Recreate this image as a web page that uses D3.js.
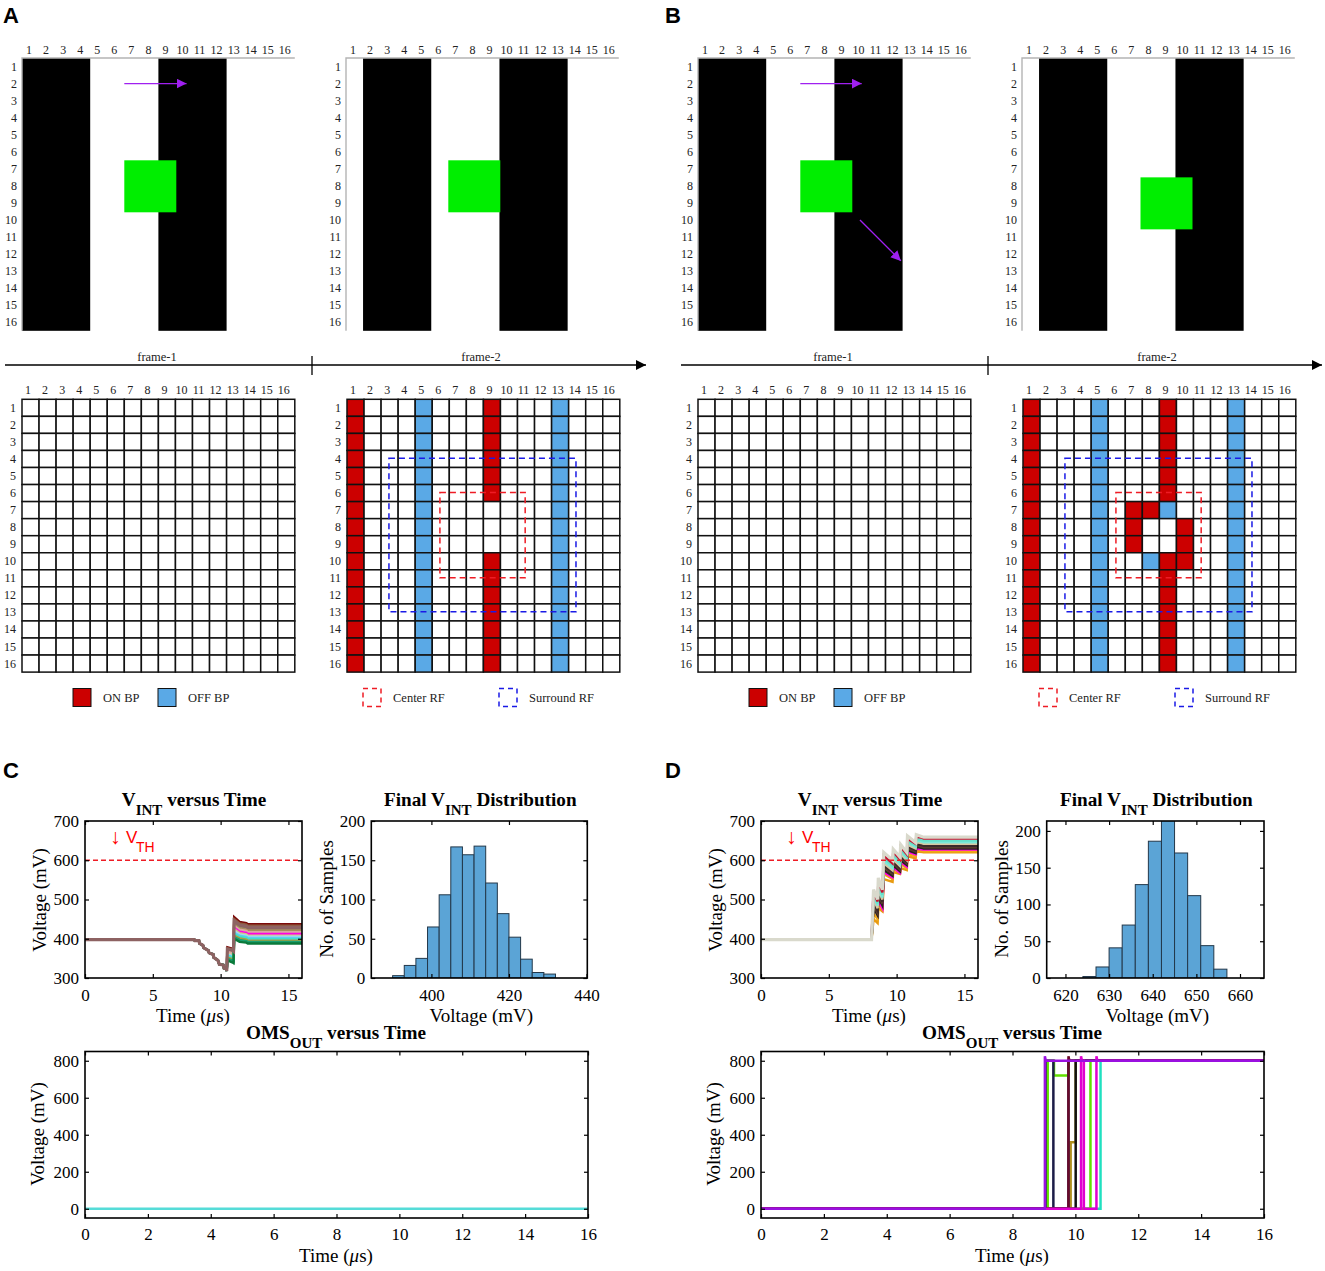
<!DOCTYPE html>
<html>
<head>
<meta charset="utf-8">
<script src="https://cdnjs.cloudflare.com/ajax/libs/d3/7.8.5/d3.min.js"></script>
<style>
  body { margin: 0; background: #fff; }
  svg { display: block; }
  text { font-family: "Liberation Serif", serif; fill: #000; }
  .letter { font-family: "Liberation Sans", sans-serif; font-weight: bold; font-size: 22px; }
  .gridlabel { font-size: 12px; fill: #222; }
  .small { font-size: 12.5px; fill: #222; }
  .tick text { font-family: "Liberation Serif", serif; font-size: 17px; }
  .axlabel { font-size: 19px; }
  .title { font-size: 19.2px; font-weight: bold; }
  .vth { font-family: "Liberation Sans", sans-serif; fill: #f00; }
</style>
</head>
<body>
<svg id="fig" width="1325" height="1271"></svg>
<script>
// grid data
var gridIdx = d3.range(1, 17);

// dark bars of the stimulus, [first column, last column]
var frame1Bars = [[1, 4], [9, 12]];
var frame2Bars = [[2, 5], [10, 13]];

// green square [col offset, row offset, size] in cells
var greenA1 = [6, 6, 3.05];
var greenA2 = [6, 6, 3.05];
var greenB1 = [6, 6, 3.05];
var greenB2 = [6.95, 7, 3.05];

// arrows [x1, y1, x2, y2] in cells
var arrowsA = [[6, 1.5, 9.65, 1.5]];
var arrowsB = [[6, 1.5, 9.6, 1.5], [9.5, 9.5, 11.9, 11.9]];

// response cells [col, row]
var onColumns = [1];
var offColumns = [5, 13];
var onMiddleRowsA = [1, 2, 3, 4, 5, 6, 10, 11, 12, 13, 14, 15, 16];
var onExtraB = [[7, 7], [8, 7], [7, 8], [10, 8], [7, 9], [10, 9], [10, 10]];
var offExtraB = [[9, 7], [8, 10]];

// receptive fields [x0, y0, x1, y1] in cells
var centerRF = [5.45, 5.46, 10.45, 10.46];
var surroundRF = [2.46, 3.46, 13.43, 12.46];

// histogram C
var histCStart = 390, histCWidth = 3;
var histCCounts = [3, 16, 25, 65, 106, 167, 157, 168, 121, 82, 52, 24, 7, 5];
// histogram D
var histDStart = 624, histDWidth = 3;
var histDCounts = [2, 15, 41, 72, 127, 186, 214, 170, 112, 44, 12];

// VINT traces, panel C
var vintCTime = [0, 8.05, 8.1, 8.4, 8.45, 8.7, 8.75, 9.1, 9.15, 9.45, 9.5, 9.8, 9.9, 10.2, 10.25, 10.42, 10.45,
  10.5, 10.85, 10.95, 11.0, 11.4, 11.9, 12.0, 16];
var vintCStart = [398, 398, 395, 395, 388, 383, 377, 370, 364, 360, 352, 345, 335, 333, 325, 324, 318];
var vintCTails = [
  [378, 375, 372, 455, 443, 440, 437, 437],
  [376, 373, 370, 450, 439, 436, 433, 433],
  [372, 369, 366, 441, 431, 428, 425, 425],
  [370, 366, 363, 436, 427, 424, 421, 421],
  [368, 364, 360, 432, 423, 420, 417, 417],
  [352, 348, 345, 428, 418, 415, 412, 412],
  [362, 358, 354, 424, 414, 411, 408, 408],
  [360, 356, 352, 420, 411, 408, 405, 405],
  [358, 354, 350, 415, 408, 405, 402, 402],
  [356, 352, 348, 412, 405, 402, 399, 399],
  [352, 348, 345, 408, 401, 398, 395, 395],
  [349, 345, 342, 404, 397, 394, 392, 392],
  [345, 340, 338, 400, 392, 390, 388, 388],
  [374, 371, 368, 446, 435, 432, 429, 429]
];
var vintCColors = ["#7b0a0a", "#8f5a3c", "#7d6a6a", "#a98b5d", "#d8a8a0", "#ff00e6", "#d6c27a", "#a8d8f0", "#5fd0f0", "#40e0d0", "#a8a040", "#18a070", "#0a7a3a", "#8d6262"];

// VINT traces, panel D
var vintDTime = [0, 8.15, 8.3, 8.6, 8.65, 8.95, 9.05, 9.7, 9.75, 10.25, 10.3, 10.75, 10.8, 11.4, 11.45, 11.9, 12.0, 16];
var vintDValues = [
  [398, 398, 450, 440, 478, 470, 552, 545, 570, 565, 580, 575, 610, 605, 622, 621, 620, 620],
  [398, 398, 465, 450, 490, 475, 565, 552, 576, 570, 590, 580, 616, 610, 626, 624, 623, 623],
  [398, 398, 523, 470, 498, 478, 570, 556, 582, 568, 596, 584, 622, 615, 630, 627, 627, 627],
  [398, 398, 478, 460, 505, 485, 575, 560, 587, 572, 600, 588, 626, 618, 634, 631, 630, 630],
  [398, 398, 485, 465, 512, 490, 582, 565, 592, 576, 606, 592, 630, 622, 638, 634, 633, 633],
  [398, 398, 492, 472, 518, 495, 588, 570, 597, 580, 612, 596, 635, 626, 642, 638, 637, 637],
  [398, 398, 500, 478, 525, 500, 592, 574, 602, 585, 616, 600, 640, 630, 646, 643, 642, 642],
  [398, 398, 508, 485, 532, 505, 598, 580, 608, 590, 622, 605, 645, 634, 650, 647, 646, 646],
  [398, 398, 515, 490, 540, 512, 605, 586, 615, 596, 628, 610, 650, 638, 655, 651, 650, 650],
  [398, 398, 520, 495, 545, 518, 612, 592, 622, 602, 634, 615, 655, 642, 660, 657, 655, 655],
  [398, 398, 525, 500, 555, 525, 620, 600, 628, 608, 640, 620, 662, 645, 665, 660, 659, 659]
];
var vintDColors = ["#e89a10", "#f0a818", "#ff00e6", "#2a2020", "#5a3c2c", "#3a2a2a", "#d8c8a0", "#7de8d8", "#66e0c8", "#c8102e", "#d9d9cc"];

// OMS output
var omsCTime = [0, 16];
var omsCValue = [0, 0];
var omsDTimes = [
  [0, 10.8, 10.8, 16],
  [0, 9.12, 9.12, 9.32, 9.32, 9.78, 9.78, 16],
  [0, 10.48, 10.48, 16],
  [0, 9.85, 9.85, 10.01, 10.01, 16],
  [0, 10.01, 10.01, 16],
  [0, 9.05, 9.05, 9.3, 9.3, 9.78, 9.78, 16],
  [0, 9.78, 9.78, 9.81, 16],
  [0, 10.18, 10.18, 10.21, 10.27, 10.27, 10.67, 10.67, 10.7, 16],
  [0, 9.03, 9.03, 9.06, 16]
];
var omsDValues = [
  [0, 0, 800, 800],
  [0, 0, 800, 800, 720, 720, 800, 800],
  [0, 0, 800, 800],
  [0, 0, 360, 360, 800, 800],
  [0, 0, 800, 800],
  [0, 0, 800, 800, 0, 0, 800, 800],
  [0, 0, 825, 800, 800],
  [0, 0, 825, 800, 800, 0, 0, 825, 800, 800],
  [0, 0, 825, 800, 800]
];
var omsDColors = ["#20e0c0", "#62e000", "#62e000", "#b09020", "#111111", "#1c1c48", "#6a0a2a", "#e000d0", "#9a10e0"];

var RED = "#cc0000", BLUE = "#5aa9e6", GREEN = "#00ee00", PURPLE = "#a020f0";
var cell = 17.05;
var svg = d3.select("#fig");

var defs = svg.append("defs");
defs.append("marker").attr("id", "headPurple").attr("viewBox", "0 0 10 10")
  .attr("refX", 10).attr("refY", 5).attr("markerUnits", "userSpaceOnUse")
  .attr("markerWidth", 10).attr("markerHeight", 10).attr("orient", "auto")
  .append("path").attr("d", "M0,0L10,5L0,10Z").attr("fill", PURPLE);
defs.append("marker").attr("id", "headBlack").attr("viewBox", "0 0 10 10")
  .attr("refX", 10).attr("refY", 5).attr("markerUnits", "userSpaceOnUse")
  .attr("markerWidth", 10).attr("markerHeight", 10).attr("orient", "auto")
  .append("path").attr("d", "M0,0L10,5L0,10Z").attr("fill", "#000");

function cellScales(x0, y0) {
  return {
    x: d3.scaleLinear().domain([0, 16]).range([x0, x0 + 16 * cell]),
    y: d3.scaleLinear().domain([0, 16]).range([y0, y0 + 16 * cell])
  };
}

function gridLabels(g, s, colShift, rowX, colY) {
  g.selectAll("text.col").data(gridIdx).enter().append("text")
    .attr("class", "gridlabel col").attr("text-anchor", "middle")
    .attr("x", function(d) { return s.x(d - 0.5) + colShift; })
    .attr("y", s.y(0) - colY)
    .text(function(d) { return d; });
  g.selectAll("text.row").data(gridIdx).enter().append("text")
    .attr("class", "gridlabel row").attr("text-anchor", "end")
    .attr("x", s.x(0) + rowX)
    .attr("y", function(d) { return s.y(d - 0.5) + 4; })
    .text(function(d) { return d; });
}

function drawStimulus(x0, bars, green, arrows) {
  var g = svg.append("g");
  var s = cellScales(x0, 58);
  g.selectAll("rect.bar").data(bars).enter().append("rect")
    .attr("x", function(d) { return s.x(d[0] - 1); })
    .attr("y", s.y(0))
    .attr("width", function(d) { return s.x(d[1]) - s.x(d[0] - 1); })
    .attr("height", s.y(16) - s.y(0))
    .attr("fill", "#000");
  g.append("path")
    .attr("d", "M" + s.x(0) + "," + s.y(16) + "V" + s.y(0) + "H" + s.x(16))
    .attr("fill", "none").attr("stroke", "#b4b4b4").attr("stroke-width", 1.4);
  g.append("rect")
    .attr("x", s.x(green[0])).attr("y", s.y(green[1]))
    .attr("width", s.x(green[2]) - s.x(0)).attr("height", s.y(green[2]) - s.y(0))
    .attr("fill", GREEN);
  g.selectAll("line.arrow").data(arrows).enter().append("line")
    .attr("x1", function(d) { return s.x(d[0]); })
    .attr("y1", function(d) { return s.y(d[1]); })
    .attr("x2", function(d) { return s.x(d[2]); })
    .attr("y2", function(d) { return s.y(d[3]); })
    .attr("stroke", PURPLE).attr("stroke-width", 1.3)
    .attr("marker-end", "url(#headPurple)");
  gridLabels(g, s, -1.5, -5, 4.5);
}

function drawGrid(x0, on, off, showRF) {
  var g = svg.append("g");
  var s = cellScales(x0, 399.3);
  var cells = [];
  gridIdx.forEach(function(r) {
    gridIdx.forEach(function(c) { cells.push([c, r]); });
  });
  function has(list, d) {
    return list.some(function(p) { return p[0] === d[0] && p[1] === d[1]; });
  }
  g.selectAll("rect").data(cells).enter().append("rect")
    .attr("x", function(d) { return s.x(d[0] - 1); })
    .attr("y", function(d) { return s.y(d[1] - 1); })
    .attr("width", cell).attr("height", cell)
    .attr("fill", function(d) {
      if (has(on, d)) return RED;
      if (has(off, d)) return BLUE;
      return "#fff";
    })
    .attr("stroke", "#111").attr("stroke-width", 1.5);
  if (showRF) {
    [[surroundRF, "#1a1ae6"], [centerRF, "#ee1c25"]].forEach(function(rf) {
      g.append("rect")
        .attr("x", s.x(rf[0][0])).attr("y", s.y(rf[0][1]))
        .attr("width", s.x(rf[0][2]) - s.x(rf[0][0]))
        .attr("height", s.y(rf[0][3]) - s.y(rf[0][1]))
        .attr("fill", "none").attr("stroke", rf[1])
        .attr("stroke-width", 1.5).attr("stroke-dasharray", "6,4");
    });
  }
  gridLabels(g, s, -2.5, -6, 5);
}

function columnCells(cols, rows) {
  var out = [];
  cols.forEach(function(c) {
    rows.forEach(function(r) { out.push([c, r]); });
  });
  return out;
}

function drawFrameBar(dx) {
  var g = svg.append("g");
  g.append("line").attr("x1", 5 + dx).attr("x2", 646 + dx).attr("y1", 365).attr("y2", 365)
    .attr("stroke", "#000").attr("stroke-width", 1.5).attr("marker-end", "url(#headBlack)");
  g.append("line").attr("x1", 312 + dx).attr("x2", 312 + dx).attr("y1", 356).attr("y2", 375)
    .attr("stroke", "#000").attr("stroke-width", 1.3);
  g.append("text").attr("class", "small").attr("text-anchor", "middle")
    .attr("x", 157 + dx).attr("y", 361).text("frame-1");
  g.append("text").attr("class", "small").attr("text-anchor", "middle")
    .attr("x", 481 + dx).attr("y", 361).text("frame-2");
}

function drawLegend(dx) {
  var g = svg.append("g");
  var filled = [[73, RED, "ON BP", 103], [158, BLUE, "OFF BP", 188]];
  filled.forEach(function(d) {
    g.append("rect").attr("x", d[0] + dx).attr("y", 688.5).attr("width", 18).attr("height", 18)
      .attr("fill", d[1]).attr("stroke", "#111").attr("stroke-width", 1);
    g.append("text").attr("class", "small").attr("x", d[3] + dx).attr("y", 701.5).text(d[2]);
  });
  var dashed = [[363, "#ee1c25", "Center RF", 393], [499, "#1a1ae6", "Surround RF", 529]];
  dashed.forEach(function(d) {
    g.append("rect").attr("x", d[0] + dx).attr("y", 688.5).attr("width", 18).attr("height", 18)
      .attr("fill", "none").attr("stroke", d[1]).attr("stroke-width", 1.5)
      .attr("stroke-dasharray", "5,4");
    g.append("text").attr("class", "small").attr("x", d[3] + dx).attr("y", 701.5).text(d[2]);
  });
}

// box with inward ticks on all four sides
function drawBox(box, x, y, xTicks, yTicks, xPad) {
  var g = svg.append("g");
  g.append("g").attr("transform", "translate(0," + box.bottom + ")")
    .call(d3.axisBottom(x).tickValues(xTicks).tickFormat(d3.format("d")).tickSizeInner(-4).tickSizeOuter(0).tickPadding(xPad));
  g.append("g").attr("transform", "translate(0," + box.top + ")")
    .call(d3.axisTop(x).tickValues(xTicks).tickFormat("").tickSizeInner(-4).tickSizeOuter(0));
  g.append("g").attr("transform", "translate(" + box.left + ",0)")
    .call(d3.axisLeft(y).tickValues(yTicks).tickFormat(d3.format("d")).tickSizeInner(-4).tickSizeOuter(0).tickPadding(6));
  g.append("g").attr("transform", "translate(" + box.right + ",0)")
    .call(d3.axisRight(y).tickValues(yTicks).tickFormat("").tickSizeInner(-4).tickSizeOuter(0));
  g.selectAll(".domain").remove();
  g.selectAll(".tick line").attr("stroke", "#000").attr("stroke-width", 1.2);
  g.append("rect")
    .attr("x", box.left).attr("y", box.top)
    .attr("width", box.right - box.left).attr("height", box.bottom - box.top)
    .attr("fill", "none").attr("stroke", "#000").attr("stroke-width", 1.6);
}

function titleText(cx, by, before, sub, after) {
  var t = svg.append("text").attr("class", "title").attr("text-anchor", "middle")
    .attr("x", cx).attr("y", by);
  t.append("tspan").text(before);
  t.append("tspan").attr("dy", 9).attr("font-size", 15).text(sub);
  t.append("tspan").attr("dy", -9).text(after);
}

function yLabel(x, cy, txt) {
  svg.append("text").attr("class", "axlabel").attr("text-anchor", "middle")
    .attr("transform", "translate(" + x + "," + cy + ") rotate(-90)").text(txt);
}

function xLabel(cx, y, txt) {
  svg.append("text").attr("class", "axlabel").attr("text-anchor", "middle")
    .attr("x", cx).attr("y", y).text(txt);
}

function timeLabel(cx, y) {
  var t = svg.append("text").attr("class", "axlabel").attr("text-anchor", "middle")
    .attr("x", cx).attr("y", y);
  t.append("tspan").text("Time (");
  t.append("tspan").attr("font-style", "italic").text("\u03bc");
  t.append("tspan").text("s)");
}

function clipFor(id, box) {
  defs.append("clipPath").attr("id", id).append("rect")
    .attr("x", box.left).attr("y", box.top)
    .attr("width", box.right - box.left).attr("height", box.bottom - box.top);
}

function drawVint(id, left, times, traces, colors, width) {
  var box = { left: left, right: left + 217, top: 821, bottom: 978 };
  var x = d3.scaleLinear().domain([0, 16]).range([box.left, box.right]);
  var y = d3.scaleLinear().domain([300, 700]).range([box.bottom, box.top]);
  clipFor(id, box);
  var line = d3.line()
    .x(function(d, i) { return x(times[i]); })
    .y(function(d) { return y(d); });
  var g = svg.append("g").attr("clip-path", "url(#" + id + ")");
  traces.forEach(function(tr, i) {
    var last = i === traces.length - 1;
    g.append("path").attr("d", line(tr)).attr("fill", "none")
      .attr("stroke", colors[i]).attr("stroke-width", last ? width + 0.8 : width);
  });
  g.append("line").attr("x1", box.left).attr("x2", box.right)
    .attr("y1", y(600)).attr("y2", y(600))
    .attr("stroke", "#ee1c25").attr("stroke-width", 1.4).attr("stroke-dasharray", "5,3");
  drawBox(box, x, y, [0, 5, 10, 15], [300, 400, 500, 600, 700], 11);
  svg.append("text").attr("class", "vth").attr("x", left + 25).attr("y", 844).attr("font-size", 21).text("\u2193");
  svg.append("text").attr("class", "vth").attr("x", left + 41).attr("y", 843).attr("font-size", 17).text("V");
  svg.append("text").attr("class", "vth").attr("x", left + 51).attr("y", 852).attr("font-size", 14).text("TH");
  titleText(left + 109, 806, "V", "INT", " versus Time");
  yLabel(left - 39, 900, "Voltage  (mV)");
  timeLabel(left + 108, 1022);
}

function drawHist(left, right, xDomain, yMax, start, binW, counts, xTicks, yTicks) {
  var id = "clip" + Math.round(left);
  var box = { left: left, right: right, top: 821, bottom: 978 };
  var x = d3.scaleLinear().domain(xDomain).range([box.left, box.right]);
  var y = d3.scaleLinear().domain([0, yMax]).range([box.bottom, box.top]);
  clipFor(id, box);
  svg.append("g").attr("clip-path", "url(#" + id + ")")
    .selectAll("rect").data(counts).enter().append("rect")
    .attr("x", function(d, i) { return x(start + i * binW); })
    .attr("y", function(d) { return y(d); })
    .attr("width", function(d, i) { return x(start + (i + 1) * binW) - x(start + i * binW); })
    .attr("height", function(d) { return y(0) - y(d); })
    .attr("fill", "#5ba4d6").attr("stroke", "#23384a").attr("stroke-width", 1);
  drawBox(box, x, y, xTicks, yTicks, 11);
  titleText((left + right) / 2 + 1, 806, "Final V", "INT", " Distribution");
  yLabel(left - 38.7, 899, "No. of Samples");
  xLabel((left + right) / 2 + 2, 1022, "Voltage (mV)");
}

function drawOms(left, timesList, valuesList, colors, width) {
  var box = { left: left, right: left + 503, top: 1051.5, bottom: 1218 };
  var x = d3.scaleLinear().domain([0, 16]).range([box.left, box.right]);
  var y = d3.scaleLinear().domain([-50, 850]).range([box.bottom, box.top]);
  var id = "clipO" + left;
  clipFor(id, box);
  var g = svg.append("g").attr("clip-path", "url(#" + id + ")");
  valuesList.forEach(function(vals, k) {
    var line = d3.line()
      .x(function(d, i) { return x(timesList[k][i]); })
      .y(function(d) { return y(d); });
    g.append("path").attr("d", line(vals)).attr("fill", "none")
      .attr("stroke", colors[k]).attr("stroke-width", width);
  });
  drawBox(box, x, y, d3.range(0, 17, 2), [0, 200, 400, 600, 800], 10);
  titleText(left + 251, 1039, "OMS", "OUT", " versus Time");
  yLabel(left - 41, 1134, "Voltage  (mV)");
  timeLabel(left + 251, 1262);
}

// panel letters
[["A", 3, 23], ["B", 665, 23], ["C", 3, 778], ["D", 665, 778]].forEach(function(d) {
  svg.append("text").attr("class", "letter").attr("x", d[1]).attr("y", d[2]).text(d[0]);
});

// panel A
drawStimulus(22, frame1Bars, greenA1, arrowsA);
drawStimulus(346, frame2Bars, greenA2, []);
drawFrameBar(0);
drawGrid(22, [], [], false);
drawGrid(347,
  columnCells(onColumns, gridIdx).concat(columnCells([9], onMiddleRowsA)),
  columnCells(offColumns, gridIdx), true);
drawLegend(0);

// panel B
drawStimulus(698, frame1Bars, greenB1, arrowsB);
drawStimulus(1022, frame2Bars, greenB2, []);
drawFrameBar(676);
drawGrid(698, [], [], false);
drawGrid(1023,
  columnCells(onColumns, gridIdx).concat(columnCells([9], onMiddleRowsA)).concat(onExtraB),
  columnCells(offColumns, gridIdx).concat(offExtraB), true);
drawLegend(676);

// panel C
drawVint("vintC", 85, vintCTime, vintCTails.map(function(t) { return vintCStart.concat(t); }), vintCColors, 2.4);
drawHist(371.3, 587.3, [384.5, 440.2], 200, histCStart, histCWidth, histCCounts, [400, 420, 440], [0, 50, 100, 150, 200]);
drawOms(85, [omsCTime], [omsCValue], ["#55dcd8"], 2.4);

// panel D
drawVint("vintD", 761, vintDTime, vintDValues, vintDColors, 2.4);
drawHist(1046.7, 1264, [615.7, 665.5], 213.5, histDStart, histDWidth, histDCounts, [620, 630, 640, 650, 660], [0, 50, 100, 150, 200]);
drawOms(761, omsDTimes, omsDValues, omsDColors, 2.5);
</script>
</body>
</html>
